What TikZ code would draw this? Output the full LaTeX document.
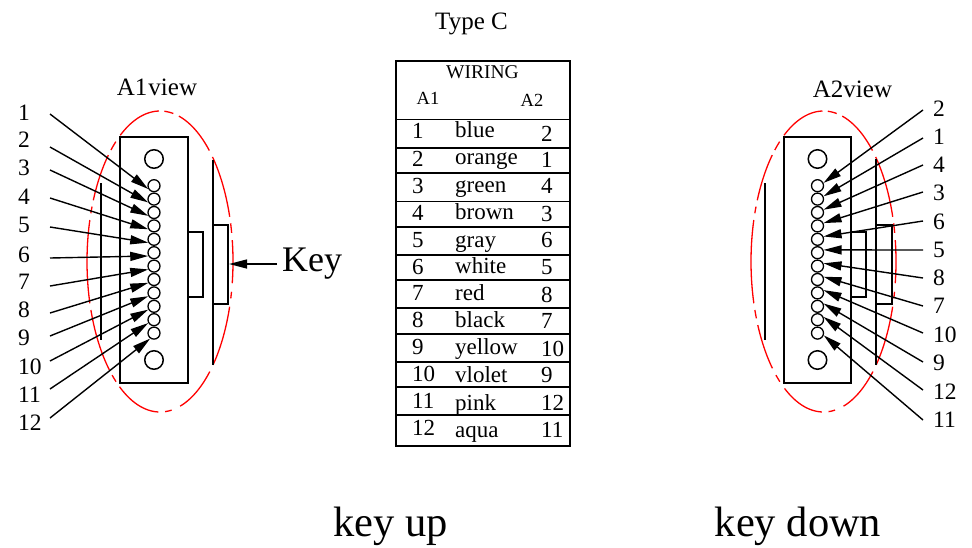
\documentclass[tikz,border=0pt]{standalone}
\usepackage{fontspec}
\usetikzlibrary{arrows.meta}
\setmainfont{Liberation Serif}
\tikzset{
	part/.style={line width=1.5pt},
	outline/.style={red,line width=1.3pt},
	wire/.style={line width=1.4pt,-{Triangle[length=18pt,width=9pt]}},
	pinhole/.style={circle,draw,line width=1.3pt,minimum size=12pt,inner sep=0pt},
	screw/.style={circle,draw,line width=1.5pt,minimum size=18.5pt,inner sep=0pt},
	pinlabel/.style={anchor=west,inner sep=0pt,font=\fontsize{23.5}{23.5}\selectfont},
	cell/.style={anchor=base west,inner sep=0pt,font=\fontsize{23}{23}\selectfont},
	head/.style={anchor=center,inner sep=0pt,font=\fontsize{18.5}{18.5}\selectfont},
	title/.style={anchor=center,inner sep=0pt,font=\fontsize{25}{25}\selectfont},
	big/.style={anchor=base,inner sep=0pt,font=\fontsize{42.5}{42.5}\selectfont}
}
\begin{document}
\begin{tikzpicture}[x=1pt,y=-1pt]
	\useasboundingbox (0,0) rectangle (972,547);
	% A1 side
	\node[title] (aoneview) at (157,87) {A1\hspace{1pt}view};
	\foreach \s/\e in {-8.2/8.3,11.6/14.2,17.5/43.4,47/74,80.8/86,91.3/123.7,127/131,134/161.2,163.9/196,198.7/201.4,204/225,227.8/232.8,237/269.2,273.4/280.5,285/312.5,316/342.7,345.3/349}{
		\draw[outline] plot[domain=\s:\e,samples=20,smooth,variable=\t] ({160+73*cos(\t)},{261.5+150.5*sin(\t)});
	}
	\draw[part] (120,137) rectangle (188,383);
	\draw[part] (188,232) -- (203,232) -- (203,297) -- (188,297);
	\draw[part] (213,160) -- (213,365);
	\draw[part] (213,225) -- (228,225) -- (228,304) -- (213,304);
	\draw[part] (101,183) -- (101,340);
	\node[screw] (aonetop) at (154,159) {};
	\node[screw] (aonebot) at (154,360) {};
	\foreach \n/\ly/\ty/\py/\an in {1/113/114/185.7/210,2/140/147/199.1/210,3/168/170/212.5/210,4/197/198/225.9/210,5/225/227/239.3/210,6/255/258/252.7/210,7/282/286/266.1/210,8/310/313/279.5/210,9/338/336/292.9/210,10/367/361/306.3/210,11/395/389/319.7/210,12/423/418/333.1/235}{
		\node[pinlabel] (aonelab\n) at (18,\ly) {\n};
		\coordinate (aonetail\n) at (50,\ty);
		\node[pinhole] (aonepin\n) at (154,\py) {};
		\draw[wire] (aonetail\n) -- (aonepin\n.\an);
	}
	\node[anchor=west,inner sep=0pt,font=\fontsize{36}{36}\selectfont] (keylab) at (282,264) {Key};
	\coordinate (keytail) at (277,264);
	\coordinate (keytip) at (229,264);
	\draw[wire] (keytail) -- (keytip);
	% table
	\node[title] (typec) at (471.5,24) {Type C};
	\draw[part] (396,61) rectangle (570,446);
	\foreach \y in {119.5,148,173,201.5,227,255,280,308,334,362,387,415}{
		\draw[part] (396,\y) -- (570,\y);
	}
	\node[head,font=\fontsize{19.5}{19.5}\selectfont] (wiring) at (482.5,72.5) {WIRING};
	\node[head] (aone) at (428,98) {A1};
	\node[head] (atwo) at (532,100) {A2};
	\foreach \i/\a/\c/\b/\ya/\yc/\yb in {1/1/blue/2/138/137/141,2/2/orange/1/166/164/167,3/3/green/4/193/192/193,4/4/brown/3/220/219/221,5/5/gray/6/247/247/247,6/6/white/5/274/273/274,7/7/red/8/300/300/302,8/8/black/7/327/327/328,9/9/yellow/10/354/354/356,10/10/vlolet/9/381/382/382,11/11/pink/12/408/410/410,12/12/aqua/11/435/437/437}{
		\node[cell] (left\i) at (412,\ya) {\a};
		\node[cell] (wire\i) at (455,\yc) {\c};
		\node[cell] (right\i) at (541,\yb) {\b};
	}
	% A2 side
	\node[title] (atwoview) at (852.5,89) {A2view};
	\foreach \s/\e in {-8.2/8.3,11.6/14.2,17.5/43.4,47/74,80.8/86,91.3/122.5,127/131,134.8/155,157.8/161.2,163.9/196,198.7/201.4,204/225,227.8/232.8,237/269.2,273.4/280.5,285/312.5,316/342.7,345.3/349}{
		\draw[outline] plot[domain=\s:\e,samples=20,smooth,variable=\t] ({823.5+72.5*cos(\t)},{261.5+150.5*sin(\t)});
	}
	\draw[part] (784,137) rectangle (851,383);
	\draw[part] (851,232) -- (866,232) -- (866,297) -- (851,297);
	\draw[part] (876,159) -- (876,365);
	\draw[part] (876,225) -- (892,225) -- (892,304) -- (876,304);
	\draw[part] (765,183) -- (765,340);
	\node[screw] (atwotop) at (817.5,159) {};
	\node[screw] (atwobot) at (817.5,360) {};
	\foreach \n/\ly/\ty/\py/\an in {2/109/110/185.7/25,1/137/138/199.1/25,4/165/165/212.5/25,3/193/192/225.9/25,6/222/221/239.3/25,5/250/250/252.7/25,8/278/278/266.1/25,7/306/306/279.5/25,10/335/333/292.9/25,9/363/362/306.3/25,12/392/390/319.7/25,11/420/420/333.1/-20}{
		\node[pinlabel] (atwolab\n) at (933,\ly) {\n};
		\coordinate (atwotail\n) at (923,\ty);
		\node[pinhole] (atwopin\n) at (817.5,\py) {};
		\draw[wire] (atwotail\n) -- (atwopin\n.\an);
	}
	% captions
	\node[big] (keyup) at (390.5,536) {key up};
	\node[big] (keydown) at (798,536) {key down};
\end{tikzpicture}
\end{document}
